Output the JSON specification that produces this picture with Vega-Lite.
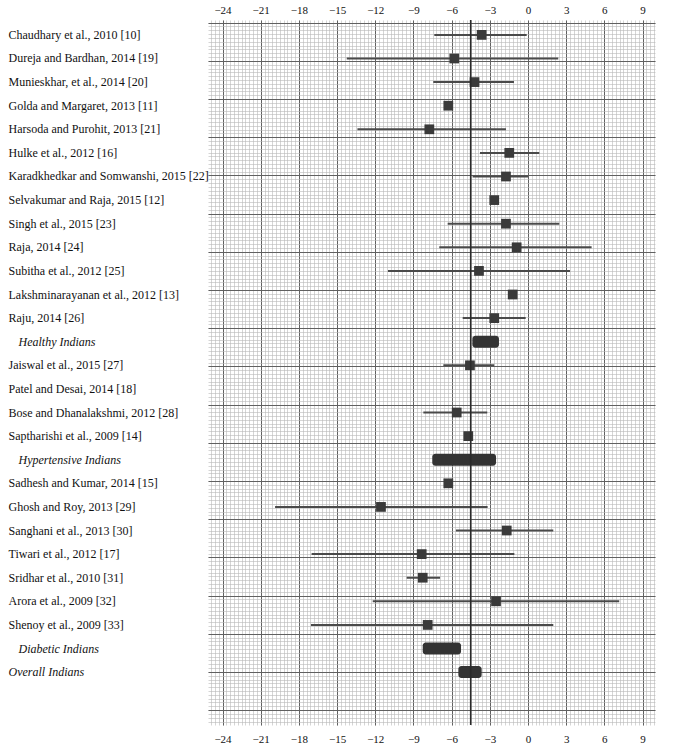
{
  "$schema": "https://vega.github.io/schema/vega-lite/v6.json",
  "autosize": {"type": "none"},
  "padding": {"left": 208, "top": 20, "right": 18, "bottom": 25},
  "width": 447,
  "height": 705,
  "background": "white",
  "config": {"view": {"stroke": null}, "axis": {"labelFont": "Liberation Serif", "titleFont": "Liberation Serif"}},
  "datasets": {
    "forest": [
      {"study": "Chaudhary et al., 2010 [10]", "kind": "study", "est": -3.64, "lo": -7.36, "hi": -0.1},
      {"study": "Dureja and Bardhan, 2014 [19]", "kind": "study", "est": -5.79, "lo": -14.24, "hi": 2.38},
      {"study": "Munieskhar, et al., 2014 [20]", "kind": "study", "est": -4.2, "lo": -7.44, "hi": -1.1},
      {"study": "Golda and Margaret, 2013 [11]", "kind": "study", "est": -6.26, "lo": null, "hi": null},
      {"study": "Harsoda and Purohit, 2013 [21]", "kind": "study", "est": -7.75, "lo": -13.4, "hi": -1.73},
      {"study": "Hulke et al., 2012 [16]", "kind": "study", "est": -1.47, "lo": -3.77, "hi": 0.89},
      {"study": "Karadkhedkar and Somwanshi, 2015 [22]", "kind": "study", "est": -1.73, "lo": -4.35, "hi": 0.0},
      {"study": "Selvakumar and Raja, 2015 [12]", "kind": "study", "est": -2.65, "lo": null, "hi": null},
      {"study": "Singh et al., 2015 [23]", "kind": "study", "est": -1.73, "lo": -6.31, "hi": 2.46},
      {"study": "Raja, 2014 [24]", "kind": "study", "est": -0.89, "lo": -6.97, "hi": 5.0},
      {"study": "Subitha et al., 2012 [25]", "kind": "study", "est": -3.85, "lo": -11.0, "hi": 3.3},
      {"study": "Lakshminarayanan et al., 2012 [13]", "kind": "study", "est": -1.2, "lo": null, "hi": null},
      {"study": "Raju, 2014 [26]", "kind": "study", "est": -2.65, "lo": -5.13, "hi": -0.18},
      {"study": "Healthy Indians", "kind": "summary", "est": null, "lo": -4.37, "hi": -2.28},
      {"study": "Jaiswal et al., 2015 [27]", "kind": "study", "est": -4.56, "lo": -6.65, "hi": -2.65},
      {"study": "Patel and Desai, 2014 [18]", "kind": "study", "est": null, "lo": null, "hi": null},
      {"study": "Bose and Dhanalakshmi, 2012 [28]", "kind": "study", "est": -5.6, "lo": -8.22, "hi": -3.2},
      {"study": "Saptharishi et al., 2009 [14]", "kind": "study", "est": -4.69, "lo": null, "hi": null},
      {"study": "Hypertensive Indians", "kind": "summary", "est": null, "lo": -7.52, "hi": -2.51},
      {"study": "Sadhesh and Kumar, 2014 [15]", "kind": "study", "est": -6.26, "lo": null, "hi": null},
      {"study": "Ghosh and Roy, 2013 [29]", "kind": "study", "est": -11.55, "lo": -19.87, "hi": -3.17},
      {"study": "Sanghani et al., 2013 [30]", "kind": "study", "est": -1.67, "lo": -5.66, "hi": 1.99},
      {"study": "Tiwari et al., 2012 [17]", "kind": "study", "est": -8.35, "lo": -17.0, "hi": -1.07},
      {"study": "Sridhar et al., 2010 [31]", "kind": "study", "est": -8.27, "lo": -9.53, "hi": -6.91},
      {"study": "Arora et al., 2009 [32]", "kind": "study", "est": -2.51, "lo": -12.2, "hi": 7.17},
      {"study": "Shenoy et al., 2009 [33]", "kind": "study", "est": -7.88, "lo": -17.05, "hi": 1.99},
      {"study": "Diabetic Indians", "kind": "summary", "est": null, "lo": -8.27, "hi": -5.26},
      {"study": "Overall Indians", "kind": "summary", "est": null, "lo": -5.47, "hi": -3.64}
    ],
    "paper": [{"gx": 0, "gy": 0}],
    "reference": [{"pooled": -4.5}]
  },
  "layer": [
    {
      "data": {"name": "paper"},
      "mark": {"type": "point", "opacity": 0},
      "encoding": {
        "x": {"field": "gx", "type": "quantitative",
          "scale": {"domain": [-83.8, 33.27], "nice": false, "zero": false},
          "axis": {"orient": "bottom", "grid": true, "gridColor": "#b8b8b8", "gridWidth": 0.6, "labels": false, "ticks": false, "domain": false, "tickCount": 117, "title": null}},
        "y": {"field": "gy", "type": "quantitative",
          "scale": {"domain": [-0.7, 183.9], "reverse": true, "nice": false, "zero": false},
          "axis": {"orient": "right", "grid": true, "gridColor": "#b8b8b8", "gridWidth": 0.6, "labels": false, "ticks": false, "domain": false, "tickCount": 185, "title": null}}
      }
    },
    {
      "data": {"name": "paper"},
      "mark": {"type": "point", "opacity": 0},
      "encoding": {
        "y": {"field": "gy", "type": "quantitative",
          "scale": {"domain": [-0.7, 183.9], "reverse": true, "nice": false, "zero": false},
          "axis": {"orient": "right", "grid": true, "gridColor": "#606060", "gridWidth": 1, "labels": false, "ticks": false, "domain": false, "tickCount": 18, "title": null}}
      }
    },
    {
      "data": {"name": "forest"},
      "encoding": {
        "y": {"field": "study", "type": "nominal",
          "scale": {"type": "band", "paddingInner": 0, "paddingOuter": 0.936, "align": 0.07,
            "domain": ["Chaudhary et al., 2010 [10]", "Dureja and Bardhan, 2014 [19]", "Munieskhar, et al., 2014 [20]", "Golda and Margaret, 2013 [11]", "Harsoda and Purohit, 2013 [21]", "Hulke et al., 2012 [16]", "Karadkhedkar and Somwanshi, 2015 [22]", "Selvakumar and Raja, 2015 [12]", "Singh et al., 2015 [23]", "Raja, 2014 [24]", "Subitha et al., 2012 [25]", "Lakshminarayanan et al., 2012 [13]", "Raju, 2014 [26]", "Healthy Indians", "Jaiswal et al., 2015 [27]", "Patel and Desai, 2014 [18]", "Bose and Dhanalakshmi, 2012 [28]", "Saptharishi et al., 2009 [14]", "Hypertensive Indians", "Sadhesh and Kumar, 2014 [15]", "Ghosh and Roy, 2013 [29]", "Sanghani et al., 2013 [30]", "Tiwari et al., 2012 [17]", "Sridhar et al., 2010 [31]", "Arora et al., 2009 [32]", "Shenoy et al., 2009 [33]", "Diabetic Indians", "Overall Indians"]},
          "axis": {"orient": "left", "title": null, "ticks": false, "domain": false, "grid": false,
            "labelAlign": "left", "labelBaseline": "middle",
            "labelPadding": {"condition": {"test": "indexof(['Healthy Indians','Hypertensive Indians','Diabetic Indians'], datum.value) >= 0", "value": 190}, "value": 200},
            "labelFontSize": 12, "labelColor": "#111111", "labelLimit": 0,
            "labelFontStyle": {"condition": {"test": "indexof(['Healthy Indians','Hypertensive Indians','Diabetic Indians','Overall Indians'], datum.value) >= 0", "value": "italic"}, "value": "normal"}}}
      },
      "layer": [
        {
          "transform": [{"filter": "datum.kind === 'study' && datum.lo != null"}],
          "mark": {"type": "rule", "color": "#4a4a4a", "strokeWidth": 2},
          "encoding": {
            "x": {"field": "lo", "type": "quantitative",
              "scale": {"domain": [-25.14, 9.98], "nice": false, "zero": false},
              "axis": {"orient": "bottom", "values": [-24, -21, -18, -15, -12, -9, -6, -3, 0, 3, 6, 9], "grid": true, "gridColor": "#606060", "gridWidth": 1, "ticks": false, "domain": false, "labelFontSize": 11, "labelColor": "#111111", "labelPadding": 8, "title": null}},
            "x2": {"field": "hi"}
          }
        },
        {
          "transform": [{"filter": "datum.kind === 'study' && datum.est != null"}],
          "mark": {"type": "square", "color": "#3a3a3a", "opacity": 1, "size": 95},
          "encoding": {
            "x": {"field": "est", "type": "quantitative"}
          }
        },
        {
          "transform": [{"filter": "datum.kind === 'summary'"}],
          "mark": {"type": "bar", "color": "#333333", "height": 12, "cornerRadius": 3},
          "encoding": {
            "x": {"field": "lo", "type": "quantitative"},
            "x2": {"field": "hi"}
          }
        }
      ]
    },
    {
      "data": {"name": "reference"},
      "mark": {"type": "rule", "color": "#2a2a2a", "strokeWidth": 1.6},
      "encoding": {
        "x": {"field": "pooled", "type": "quantitative",
          "scale": {"domain": [-25.14, 9.98], "nice": false, "zero": false},
          "axis": {"orient": "top", "values": [-24, -21, -18, -15, -12, -9, -6, -3, 0, 3, 6, 9], "grid": false, "ticks": false, "domain": false, "labelFontSize": 11, "labelColor": "#111111", "labelPadding": 5, "title": null}}
      }
    }
  ],
  "resolve": {"scale": {"x": "independent", "y": "independent"}, "axis": {"x": "independent", "y": "independent"}}
}
